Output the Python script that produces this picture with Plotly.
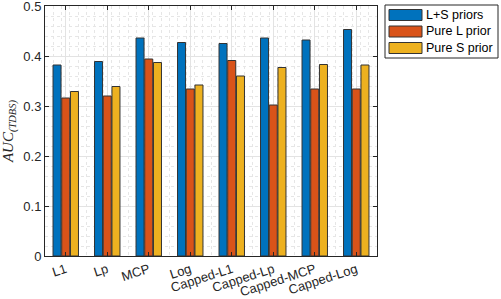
import plotly.graph_objects as go

categories = ["L1", "Lp", "MCP", "Log", "Capped-L1", "Capped-Lp", "Capped-MCP", "Capped-Log"]
ls_priors = [0.382, 0.389, 0.436, 0.427, 0.425, 0.436, 0.432, 0.453]
pure_l = [0.316, 0.320, 0.394, 0.334, 0.391, 0.302, 0.334, 0.334]
pure_s = [0.329, 0.339, 0.387, 0.342, 0.360, 0.377, 0.383, 0.382]
series_names = ["L+S priors", "Pure L prior", "Pure S prior"]
colors = ["#0072BD", "#D95319", "#EDB120"]
y_ticks = [0, 0.1, 0.2, 0.3, 0.4, 0.5]

W, H = 501, 299
ML, MR, MT, MB = 45, 124, 6, 43
PW, PH = W - ML - MR, H - MT - MB


def px_x(px):
    return (px - ML) / PW


def px_y(py):
    return (H - MB - py) / PH


xpos = list(range(1, len(categories) + 1))
fig = go.Figure()
for name, vals, c in zip(series_names, [ls_priors, pure_l, pure_s], colors):
    fig.add_trace(go.Bar(
        x=xpos, y=vals, name=name, showlegend=False,
        marker=dict(color=c, line=dict(color="#333333", width=1)),
    ))

font_family = "Liberation Sans, Arial, sans-serif"

# custom legend (MATLAB-style wide swatches)
shapes = [dict(type="rect", xref="paper", yref="paper",
               x0=px_x(385), x1=px_x(498), y0=px_y(58), y1=px_y(5),
               line=dict(color="#262626", width=1), fillcolor="white", layer="above")]
annotations = []
row_centers = [15, 31.5, 48]
for name, c, cy in zip(series_names, colors, row_centers):
    shapes.append(dict(type="rect", xref="paper", yref="paper",
                       x0=px_x(389), x1=px_x(422), y0=px_y(cy + 5.5), y1=px_y(cy - 5.5),
                       line=dict(color="#333333", width=1), fillcolor=c, layer="above"))
    annotations.append(dict(xref="paper", yref="paper", x=px_x(424), y=px_y(cy),
                            xanchor="left", yanchor="middle", text=name, showarrow=False,
                            font=dict(family=font_family, size=12.5, color="black")))

fig.update_layout(
    width=W, height=H,
    margin=dict(l=ML, r=MR, t=MT, b=MB, autoexpand=False),
    paper_bgcolor="white", plot_bgcolor="white",
    barmode="group", bargap=0.37, bargroupgap=0.08,
    font=dict(family=font_family, size=12, color="#262626"),
    showlegend=False,
    shapes=shapes, annotations=annotations,
)
fig.update_xaxes(
    range=[0.5, 8.5], automargin=False,
    tickmode="array", tickvals=xpos, ticktext=categories,
    tickangle=-18,
    ticks="inside", ticklen=4, tickcolor="#262626",
    ticklabeloverflow="allow",
    showline=True, linecolor="#262626", linewidth=1, mirror="ticks",
    showgrid=True, gridcolor="#e3e3e3", gridwidth=1,
    minor=dict(dtick=0.2, tick0=0.5, showgrid=True, gridcolor="#e6e6e6", griddash="dot", ticks=""),
    tickfont=dict(size=13, color="#262626"),
    zeroline=False,
)
fig.update_yaxes(
    range=[0, 0.5], automargin=False,
    tickmode="array", tickvals=y_ticks, ticktext=["0", "0.1", "0.2", "0.3", "0.4", "0.5"],
    ticks="inside", ticklen=4, tickcolor="#262626",
    ticklabeloverflow="allow",
    showline=True, linecolor="#262626", linewidth=1, mirror="ticks",
    showgrid=True, gridcolor="#e3e3e3", gridwidth=1,
    minor=dict(dtick=0.02, showgrid=True, gridcolor="#e6e6e6", griddash="dot", ticks=""),
    tickfont=dict(size=13, color="#262626"),
    zeroline=False,
    title=dict(text="<i>AUC</i><sub><i>(TDBS)</i></sub>",
               font=dict(family="Liberation Serif, Times New Roman, serif", size=15, color="#262626"),
               standoff=8),
)
fig.write_html("out.html", config={"displayModeBar": False},
               post_script="document.body.style.margin='0';document.body.style.overflow='hidden';")
